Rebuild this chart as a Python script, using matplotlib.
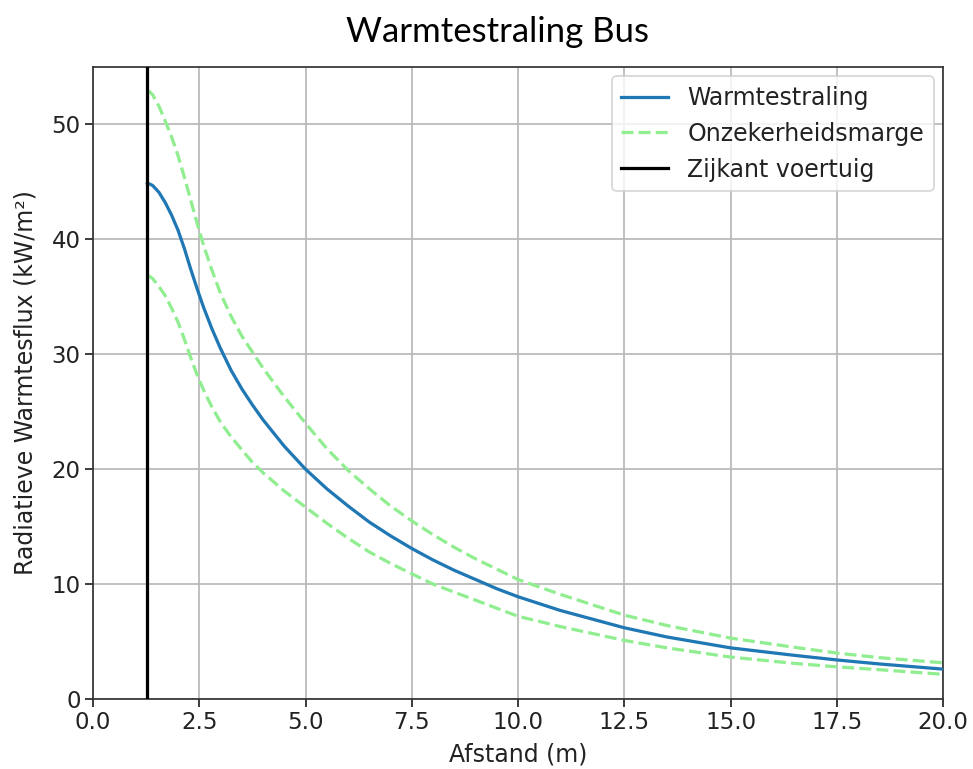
import matplotlib
matplotlib.use("Agg")
import matplotlib.pyplot as plt

# Data
afstand = [1.28, 1.4, 1.55, 1.7, 1.85, 2.0, 2.15, 2.3, 2.45, 2.6, 2.8, 3.0, 3.25, 3.5,
           3.75, 4.0, 4.5, 5.0, 5.5, 6.0, 6.5, 7.0, 7.5, 8.0, 8.5, 9.0, 9.5, 10.0,
           11.0, 12.0, 12.5, 13.5, 15.0, 16.5, 17.5, 18.5, 20.0]
warmtestraling = [44.9, 44.7, 44.1, 43.2, 42.1, 40.8, 39.2, 37.4, 35.7, 34.1, 32.2,
                  30.5, 28.6, 27.0, 25.6, 24.3, 22.0, 20.0, 18.3, 16.8, 15.4, 14.2,
                  13.1, 12.1, 11.2, 10.4, 9.6, 8.9, 7.7, 6.7, 6.2, 5.4, 4.45, 3.8,
                  3.4, 3.05, 2.6]
marge_boven = [53.0, 52.6, 51.6, 50.3, 48.9, 47.3, 45.4, 43.4, 41.4, 39.5, 37.3,
               35.3, 33.3, 31.6, 30.2, 28.8, 26.3, 24.0, 21.8, 19.9, 18.3, 16.8,
               15.5, 14.3, 13.2, 12.2, 11.3, 10.4, 9.1, 7.9, 7.3, 6.4, 5.3, 4.5,
               4.0, 3.6, 3.15]
marge_onder = [36.9, 36.6, 35.9, 35.1, 34.0, 32.8, 31.3, 29.7, 28.2, 26.9, 25.4,
               24.1, 22.8, 21.7, 20.6, 19.7, 18.1, 16.7, 15.3, 14.0, 12.8, 11.8,
               10.9, 10.0, 9.3, 8.6, 7.9, 7.2, 6.3, 5.5, 5.1, 4.45, 3.65, 3.1,
               2.8, 2.55, 2.15]
zijkant = 1.28

title = "Warmtestraling Bus"
xlabel = "Afstand (m)"
ylabel = "Radiatieve Warmtesflux (kW/m²)"
xticks = [0.0, 2.5, 5.0, 7.5, 10.0, 12.5, 15.0, 17.5, 20.0]
yticks = [0, 10, 20, 30, 40, 50]

S = 1.55
plt.rcParams['font.family'] = ['DejaVu Sans']

fig = plt.figure(figsize=(9.73, 7.69), dpi=100)
ax = fig.add_axes([93/973, 1 - 699/769, (943 - 93)/973, (699 - 67)/769])

ax.plot(afstand, warmtestraling, color='#1f77b4', lw=1.5*S, label='Warmtestraling', zorder=3)
ax.plot(afstand, marge_boven, color='lightgreen', lw=1.5*S, ls=(0, (3.7, 1.6)),
        label='Onzekerheidsmarge', zorder=3)
ax.plot(afstand, marge_onder, color='lightgreen', lw=1.5*S, ls=(0, (3.7, 1.6)), zorder=3)
ax.axvline(zijkant, color='black', lw=1.5*S, label='Zijkant voertuig', zorder=4)

ax.set_xlim(0, 20)
ax.set_ylim(0, 55)
ax.set_xticks(xticks)
ax.set_xticklabels([f"{t:.1f}" for t in xticks])
ax.set_yticks(yticks)
ax.grid(True, color='#b8b8b8', lw=0.8*S)
ax.set_axisbelow(True)
ax.tick_params(length=3.5*S, width=0.8*S, colors='#222222', labelsize=16.5)
for sp in ax.spines.values():
    sp.set_linewidth(0.8*S)
    sp.set_color('#333333')

ax.set_xlabel(xlabel, color='#222222', labelpad=6, fontsize=17)
ax.set_ylabel(ylabel, color='#222222', labelpad=10, fontsize=17)

leg = ax.legend(loc='upper right', fontsize=17, handlelength=2.0, borderpad=0.4,
                labelspacing=0.5, handletextpad=0.8, borderaxespad=0.4)
leg.get_frame().set_linewidth(0.8*S)
for t in leg.get_texts():
    t.set_color('#222222')

fig.text(497/973, 1 - 32/769, title, ha='center', va='center',
         fontsize=25, family=['Lato', 'DejaVu Sans'], color='black')

fig.savefig('out.png', dpi=100)
